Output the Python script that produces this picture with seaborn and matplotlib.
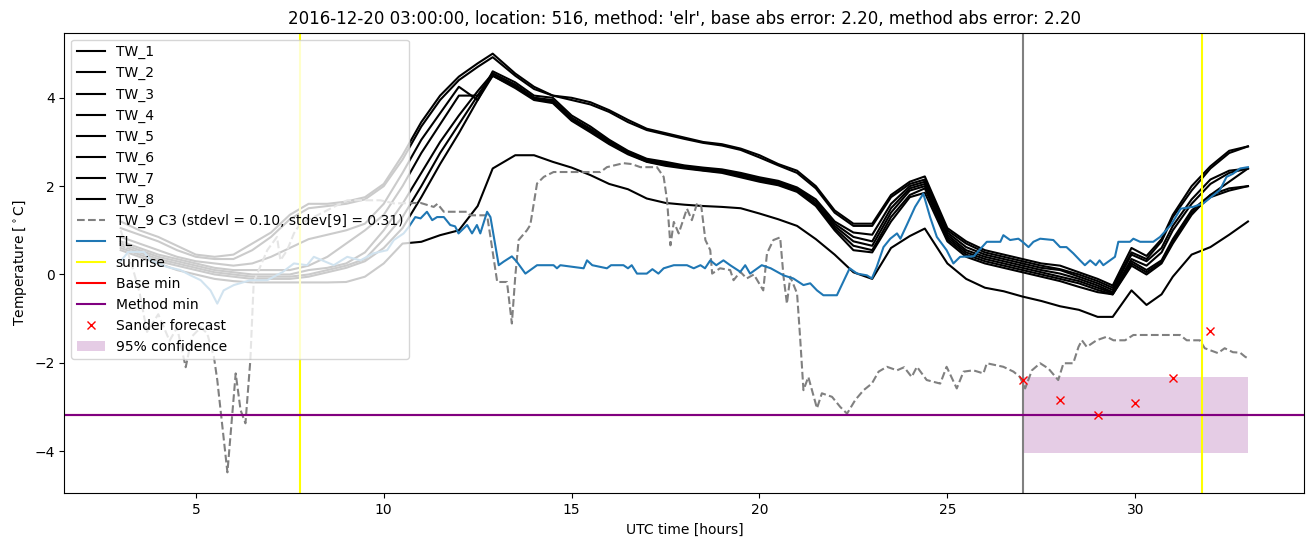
import matplotlib
matplotlib.use("Agg")
import matplotlib.pyplot as plt
import seaborn as sns
import pandas as pd

# ---------------- data ----------------
tw_hours = [3, 3.5, 4, 4.5, 5, 5.5, 6, 6.5, 7, 7.5, 8, 8.5, 9, 9.5, 10, 10.5,
            11, 11.5, 12, 12.5, 12.9,
            13.5, 14, 14.5, 15, 15.5, 16, 16.5, 17, 17.5, 18, 18.5, 19, 19.5, 20, 20.5, 21, 21.5, 22,
            22.5, 23, 23.5, 24, 24.4, 25, 25.5, 26, 26.5, 27, 27.5, 28, 28.5, 29, 29.4, 29.9, 30.3, 30.7,
            31, 31.5, 32, 32.5, 33]

tw1 = [1.2, 1.0, 0.85, 0.65, 0.45, 0.4, 0.45, 0.7, 0.95, 1.35, 1.6, 1.6, 1.65, 1.75, 2.05, 2.7,
       3.45, 4.05, 4.48, 4.78, 5.0,
       4.55, 4.25, 4.05, 4.0, 3.9, 3.72, 3.5, 3.3, 3.2, 3.1, 3.0, 2.95, 2.85, 2.7, 2.5, 2.35, 2.0, 1.45,
       1.15, 1.15, 1.8, 2.1, 2.22, 1.05, 0.75, 0.55, 0.45, 0.35, 0.25, 0.2, 0.05, -0.1, -0.25, 0.6, 0.42, 0.8,
       1.35, 2.0, 2.45, 2.8, 2.9]
tw2 = [1.05, 0.9, 0.75, 0.55, 0.4, 0.35, 0.35, 0.55, 0.85, 1.25, 1.5, 1.55, 1.6, 1.7, 2.0, 2.6,
       3.35, 3.95, 4.4, 4.7, 4.92,
       4.5, 4.2, 4.05, 3.95, 3.85, 3.68, 3.45, 3.27, 3.17, 3.07, 2.98, 2.92, 2.82, 2.65, 2.47, 2.3, 1.95, 1.4,
       1.1, 1.1, 1.75, 2.05, 2.15, 1.0, 0.7, 0.5, 0.4, 0.3, 0.2, 0.12, 0.0, -0.15, -0.3, 0.5, 0.35, 0.75,
       1.3, 1.9, 2.4, 2.75, 2.9]
tw3 = [0.85, 0.7, 0.55, 0.4, 0.3, 0.25, 0.2, 0.25, 0.4, 0.6, 0.8, 0.9, 1.0, 1.15, 1.6, 2.3,
       3.05, 3.65, 4.25, 3.95, 4.6,
       4.35, 4.05, 4.0, 3.6, 3.35, 3.05, 2.8, 2.62, 2.55, 2.47, 2.42, 2.38, 2.3, 2.2, 2.12, 1.97, 1.7, 1.2,
       0.95, 0.9, 1.6, 2.0, 2.1, 0.95, 0.62, 0.45, 0.35, 0.25, 0.15, 0.1, -0.05, -0.2, -0.35, 0.45, 0.3, 0.6,
       1.1, 1.7, 2.15, 2.35, 2.4]
tw4 = [0.75, 0.6, 0.45, 0.35, 0.25, 0.15, 0.1, 0.1, 0.1, 0.1, 0.2, 0.4, 0.7, 1.0, 1.35, 2.0,
       2.75, 3.4, 4.05, 4.05, 4.55,
       4.3, 4.0, 3.95, 3.55, 3.3, 3.02, 2.78, 2.6, 2.52, 2.45, 2.4, 2.35, 2.28, 2.17, 2.1, 1.95, 1.65, 1.15,
       0.85, 0.75, 1.5, 1.95, 2.05, 0.9, 0.55, 0.4, 0.3, 0.2, 0.1, 0.02, -0.1, -0.25, -0.4, 0.35, 0.2, 0.5,
       1.0, 1.6, 2.05, 2.3, 2.4]
tw5 = [0.7, 0.55, 0.4, 0.3, 0.2, 0.1, 0.05, 0.0, 0.0, 0.0, 0.1, 0.15, 0.25, 0.5, 1.0, 1.6,
       2.3, 3.0, 3.6, 4.15, 4.55,
       4.28, 4.0, 3.92, 3.52, 3.28, 3.0, 2.76, 2.58, 2.5, 2.43, 2.38, 2.33, 2.25, 2.15, 2.08, 1.92, 1.6, 1.1,
       0.75, 0.65, 1.4, 1.9, 2.0, 0.85, 0.5, 0.35, 0.25, 0.15, 0.05, -0.05, -0.15, -0.3, -0.42, 0.3, 0.1, 0.32,
       0.8, 1.45, 1.8, 1.95, 2.0]
tw6 = [0.65, 0.5, 0.35, 0.25, 0.15, 0.05, 0.0, -0.05, -0.05, -0.05, 0.0, 0.1, 0.2, 0.35, 0.8, 1.3,
       2.0, 2.75, 3.4, 4.05, 4.5,
       4.25, 3.98, 3.9, 3.5, 3.25, 2.97, 2.74, 2.56, 2.48, 2.42, 2.36, 2.32, 2.23, 2.13, 2.05, 1.9, 1.57, 1.05,
       0.65, 0.55, 1.3, 1.8, 1.95, 0.8, 0.45, 0.3, 0.2, 0.1, 0.0, -0.1, -0.2, -0.35, -0.45, 0.25, 0.05, 0.28,
       0.75, 1.4, 1.75, 1.9, 2.0]
tw7 = [0.55, 0.4, 0.25, 0.1, 0.0, -0.1, -0.15, -0.18, -0.18, -0.18, -0.18, -0.18, -0.17, -0.05, 0.25, 0.7,
       0.74, 0.89, 1.0, 1.55, 2.4,
       2.7, 2.7, 2.55, 2.42, 2.25, 2.05, 1.93, 1.72, 1.62, 1.58, 1.55, 1.53, 1.5, 1.38, 1.25, 1.1, 0.8, 0.45,
       0.05, -0.1, 0.6, 0.87, 1.04, 0.25, -0.1, -0.3, -0.38, -0.5, -0.6, -0.72, -0.8, -0.96, -0.96, -0.36, -0.69, -0.45,
       -0.05, 0.45, 0.62, 0.9, 1.2]
tw8 = [0.6, 0.45, 0.3, 0.2, 0.1, 0.0, -0.05, -0.1, -0.1, -0.1, -0.05, 0.05, 0.15, 0.3, 0.6, 1.05,
       1.75, 2.5, 3.2, 3.95, 4.5,
       4.22, 3.95, 3.88, 3.48, 3.22, 2.95, 2.72, 2.55, 2.46, 2.4, 2.35, 2.3, 2.2, 2.1, 2.02, 1.87, 1.55, 1.0,
       0.55, 0.5, 1.2, 1.75, 1.85, 0.75, 0.4, 0.25, 0.15, 0.05, -0.05, -0.15, -0.28, -0.4, -0.45, 0.2, 0.0, 0.25,
       0.7, 1.35, 1.8, 2.1, 2.4]

tw9_hours = [3.0, 3.3, 3.5, 3.7, 4.0, 4.3, 4.5, 4.73, 4.9, 5.13, 5.3, 5.48, 5.57, 5.84, 6.06, 6.19, 6.32, 6.45,
             6.54, 6.9, 7.16, 7.25, 7.43, 7.61, 7.78, 8.14, 8.6, 9.03, 9.91, 10.27, 10.98, 11.33, 11.43, 11.6,
             12.22, 12.3, 12.75, 12.84, 13.02, 13.28, 13.41, 13.5, 13.59, 13.81, 13.9, 14.08, 14.26, 14.52,
             15.77, 15.94, 16.38, 16.6, 16.83, 17.27, 17.45, 17.54, 17.63, 17.72, 17.85, 18.07, 18.2, 18.34,
             18.45, 18.56, 18.69, 18.74, 18.95, 19.22, 19.31, 19.49, 19.66, 19.85, 20.1, 20.2, 20.37, 20.55,
             20.64, 20.73, 20.82, 21.0, 21.08, 21.17, 21.3, 21.53, 21.66, 21.93, 22.15, 22.33, 22.55, 22.77,
             22.99, 23.17, 23.39, 23.66, 23.85, 24.05, 24.19, 24.45, 24.81, 24.98, 25.25, 25.43, 25.69, 25.96,
             26.05, 26.49, 26.76, 26.93, 27.07, 27.25, 27.47, 27.69, 27.95, 28.09, 28.35, 28.49, 28.58, 28.71,
             28.97, 29.24, 29.42, 29.73, 29.95, 31.19, 31.37, 31.72, 31.85, 32.2, 32.38, 32.6, 32.79, 32.92, 33.0]
tw9 = [1.0, 0.2, -0.4, -1.3, -0.9, -1.5, -1.2, -2.1, -1.4, -1.2, -1.33, -1.86, -2.39, -4.48, -2.24, -3.07, -3.37, -1.94,
       -0.17, 0.55, 0.85, 0.32, 0.55, 0.93, 1.15, 1.3, 1.5, 1.68, 1.68, 1.61, 1.62, 1.53, 1.6, 1.42,
       1.42, 1.34, 1.34, 0.85, -0.17, -0.17, -1.11, -0.05, 0.78, 1.0, 1.12, 2.06, 2.21, 2.32,
       2.32, 2.43, 2.52, 2.5, 2.43, 2.43, 2.21, 1.68, 0.66, 1.19, 0.93, 1.49, 1.23, 1.61,
       1.55, 0.78, 0.55, 0.02, 0.14, 0.10, -0.13, 0.06, -0.09, 0.0, -0.36, 0.48, 0.78, 0.84,
       -0.05, -0.66, -0.05, -0.43, -1.41, -2.62, -2.32, -3.03, -2.69, -2.77, -3.0, -3.15, -2.84, -2.62,
       -2.47, -2.2, -2.09, -2.17, -2.1, -2.32, -2.09, -2.39, -2.47, -2.09, -2.58, -2.2, -2.17, -2.24,
       -2.01, -2.09, -2.2, -2.32, -2.58, -2.17, -2.01, -2.13, -2.39, -2.01, -2.01, -1.64, -1.49, -1.64,
       -1.49, -1.41, -1.49, -1.49, -1.37, -1.37, -1.49, -1.49, -1.67, -1.78, -1.67, -1.76, -1.77, -1.86, -1.9]

tl_hours = [3.0, 3.2, 3.62, 3.8, 4.24, 4.59, 4.86, 5.13, 5.39, 5.57, 5.74, 6.01, 6.45, 6.9, 7.3, 7.61, 7.96,
            8.14, 8.67, 9.03, 9.38, 9.73, 10.09, 10.27, 10.53, 10.67, 10.84, 10.98, 11.15, 11.29, 11.42, 11.6,
            11.77, 11.9, 11.99, 12.22, 12.35, 12.48, 12.57, 12.75, 12.84, 13.06, 13.19, 13.41, 13.54, 13.77,
            13.9, 14.08, 14.52, 14.61, 14.7, 15.32, 15.41, 15.55, 15.94, 16.05, 16.38, 16.5, 16.6, 16.74,
            17.0, 17.15, 17.31, 17.45, 17.72, 18.07, 18.25, 18.43, 18.55, 18.69, 18.85, 19.04, 19.22, 19.49,
            19.62, 19.75, 20.06, 20.3, 20.64, 20.9, 21.17, 21.35, 21.53, 21.70, 22.06, 22.4, 22.6, 22.86,
            22.99, 23.12, 23.3, 23.48, 23.66, 23.75, 23.92, 24.14, 24.36, 24.54, 24.72, 24.98, 25.16, 25.34,
            25.7, 26.05, 26.41, 26.49, 26.67, 26.89, 27.0, 27.16, 27.29, 27.47, 27.82, 28.0, 28.17, 28.35,
            28.53, 28.66, 28.8, 28.95, 29.05, 29.15, 29.33, 29.46, 29.55, 29.86, 29.95, 30.13, 30.48, 30.66,
            30.95, 31.21, 31.54, 31.81, 32.07, 32.25, 32.43, 32.6, 32.79, 33.0]
tl = [0.3, 0.51, 0.51, 0.32, 0.17, 0.10, -0.02, -0.13, -0.36, -0.66, -0.36, -0.24, -0.13, -0.13, 0.05, 0.25, 0.21,
      0.40, 0.21, 0.40, 0.32, 0.48, 0.55, 0.78, 0.93, 1.08, 1.30, 1.27, 1.42, 1.23, 1.30, 1.30,
      1.12, 1.09, 0.93, 1.12, 0.93, 1.12, 0.93, 1.42, 1.30, 0.21, 0.29, 0.41, 0.29, 0.02,
      0.10, 0.21, 0.21, 0.14, 0.21, 0.14, 0.32, 0.21, 0.14, 0.21, 0.21, 0.14, 0.21, 0.02,
      0.02, 0.12, 0.02, 0.14, 0.21, 0.21, 0.14, 0.21, 0.14, 0.32, 0.21, 0.32, 0.21, 0.06,
      0.21, 0.02, 0.21, 0.14, -0.02, -0.09, -0.24, -0.2, -0.36, -0.47, -0.47, 0.14, 0.02, -0.02,
      -0.09, 0.17, 0.62, 0.81, 0.93, 0.81, 1.12, 1.53, 1.83, 1.30, 0.85, 0.55, 0.25, 0.40,
      0.41, 0.74, 0.74, 0.89, 0.78, 0.81, 0.74, 0.62, 0.74, 0.81, 0.78, 0.62, 0.62, 0.48,
      0.32, 0.21, 0.32, 0.21, 0.32, 0.21, 0.32, 0.40, 0.74, 0.74, 0.81, 0.74, 0.74, 0.85,
      1.12, 1.49, 1.53, 1.61, 1.79, 1.91, 2.21, 2.28, 2.40, 2.43]

sunrise_hours = [7.78, 31.77]
analysis_hour = 27.0
base_min = -3.19
method_min = -3.19
sander_hours = [27, 28, 29, 30, 31, 32]
sander_temps = [-2.39, -2.84, -3.19, -2.90, -2.35, -1.29]
conf_hours = [27, 33]
conf_low = [-4.04, -4.04]
conf_high = [-2.33, -2.33]

title = ("2016-12-20 03:00:00, location: 516, method: 'elr', "
         "base abs error: 2.20, method abs error: 2.20")

# ---------------- plotting ----------------
fig, ax = plt.subplots(figsize=(13.13, 5.47), dpi=100)
fig.subplots_adjust(left=0.049, right=0.9934, top=0.9402, bottom=0.0982)

ax.axvline(analysis_hour, color="gray", lw=1.5)

tw_series = [tw1, tw2, tw3, tw4, tw5, tw6, tw7, tw8]
for i, vals in enumerate(tw_series, start=1):
    assert len(vals) == len(tw_hours), (i, len(vals))
    sns.lineplot(x=tw_hours, y=vals, ax=ax, color="black", lw=1.5,
                 estimator=None, sort=False, label=f"TW_{i}", legend=False)

assert len(tw9) == len(tw9_hours)
sns.lineplot(x=tw9_hours, y=tw9, ax=ax, color="gray", lw=1.5, linestyle="--",
             estimator=None, sort=False, legend=False,
             label="TW_9 C3 (stdevl = 0.10, stdev[9] = 0.31)")
assert len(tl) == len(tl_hours)
sns.lineplot(x=tl_hours, y=tl, ax=ax, color="#1f77b4", lw=1.5,
             estimator=None, sort=False, label="TL", legend=False)

for j, h in enumerate(sunrise_hours):
    ax.axvline(h, color="yellow", lw=1.5, label="sunrise" if j == 0 else None)
ax.axhline(base_min, color="red", lw=1.5, label="Base min")
ax.axhline(method_min, color="purple", lw=1.5, label="Method min")

sns.lineplot(x=sander_hours, y=sander_temps, ax=ax, color="red", marker="x",
             linestyle="none", markersize=6, markeredgecolor="red",
             markeredgewidth=1.0, estimator=None, sort=False,
             label="Sander forecast", legend=False)

ax.fill_between(conf_hours, conf_low, conf_high, color="purple", alpha=0.2,
                linewidth=0, label="95% confidence")

ax.set_title(title, fontsize=12)
ax.set_xlabel("UTC time [hours]")
ax.set_ylabel(r"Temperature [$^\circ$C]")
ax.legend(loc="upper left")

fig.savefig("out.png", dpi=100)
